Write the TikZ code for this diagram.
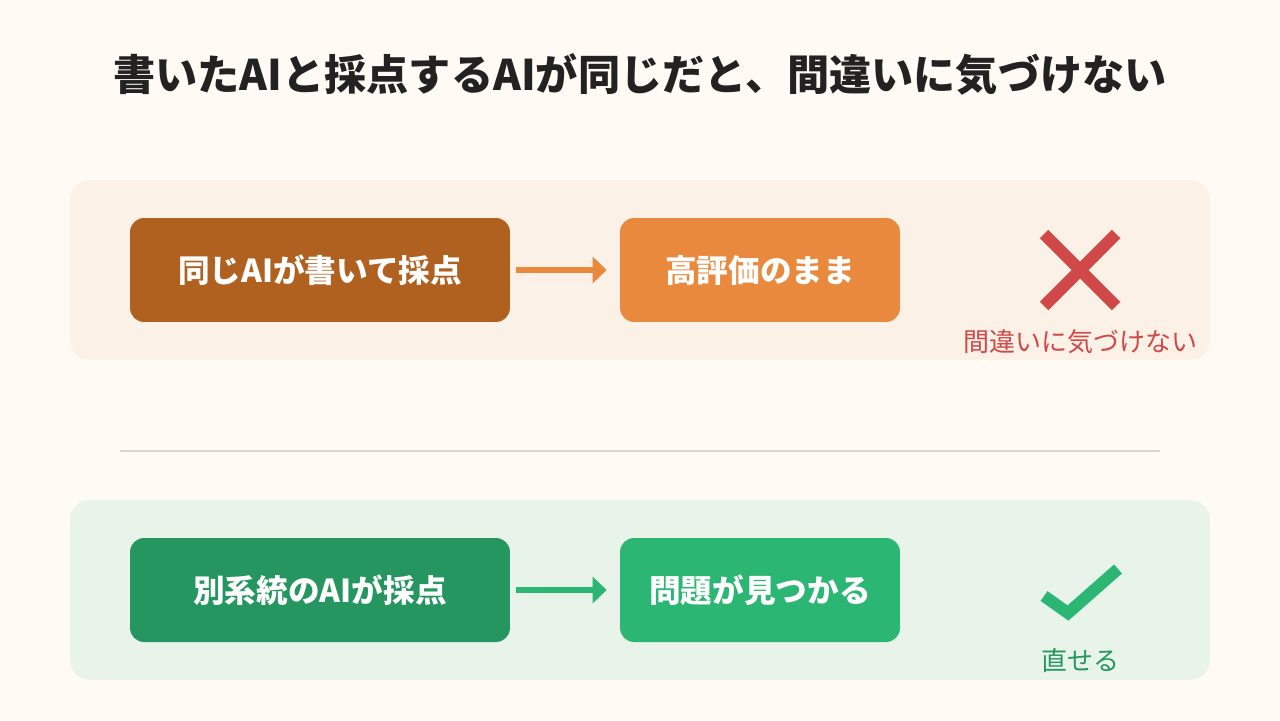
\documentclass[tikz,border=0pt]{standalone}
\usepackage{fontspec}
\setmainfont{Noto Sans CJK JP}
\usetikzlibrary{arrows.meta, positioning, calc}
\definecolor{pagebg}{HTML}{FFFAF4}
\definecolor{badpanel}{HTML}{FBF1E7}
\definecolor{goodpanel}{HTML}{E8F3EA}
\definecolor{brownbox}{HTML}{B0611F}
\definecolor{orangebox}{HTML}{E8893D}
\definecolor{crossred}{HTML}{D04848}
\definecolor{deepgreen}{HTML}{25965F}
\definecolor{lightgreen}{HTML}{2BB673}
\definecolor{rulegray}{HTML}{DDD6CE}
\definecolor{titleink}{HTML}{222222}

\begin{document}
\begin{tikzpicture}[
  x=0.02cm, y=-0.02cm,
  panel/.style={rectangle, draw=none, minimum width=22.8cm, minimum height=3.6cm, rounded corners=0.4cm, inner sep=0pt},
  srcbox/.style={rectangle, draw=none, minimum width=7.6cm, minimum height=2.08cm, rounded corners=0.28cm, text=white, font=\fontsize{18}{20}\selectfont\bfseries},
  resbox/.style={srcbox, minimum width=5.6cm},
  arr/.style={-{Triangle[length=0.28cm, width=0.52cm]}, line width=0.12cm, shorten <=0.12cm, shorten >=0.26cm},
  signline/.style={line width=0.24cm},
  note/.style={font=\fontsize{14.8}{16}\selectfont}
]
\useasboundingbox[fill=pagebg] (0,0) rectangle (1280,720);

% Title
\node[text=titleink, font=\fontsize{24}{27}\selectfont\bfseries] (title) at (640,74) {書いたAIと採点するAIが同じだと、間違いに気づけない};

% Same AI
\node[panel, fill=badpanel] (badrow) at (640,270) {};
\node[srcbox, fill=brownbox] (same) at (320,270) {同じAIが書いて採点};
\node[resbox, fill=orangebox] (high) at (760,270) {高評価のまま};
\draw[arr, orangebox] (same.east) -- (high.west);

\coordinate (cross) at (1080,270);
\draw[signline, crossred] ($(cross)+(-36,-36)$) -- ($(cross)+(36,36)$);
\draw[signline, crossred] ($(cross)+(36,-36)$) -- ($(cross)+(-36,36)$);
\node[note, text=crossred] (missed) at (1080,342) {間違いに気づけない};

% Divider
\coordinate (ruleL) at (120,451);
\coordinate (ruleR) at (1160,451);
\draw[rulegray, line width=0.04cm] (ruleL) -- (ruleR);

% Other AI
\node[panel, fill=goodpanel] (goodrow) at (640,590) {};
\node[srcbox, fill=deepgreen] (other) at (320,590) {別系統のAIが採点};
\node[resbox, fill=lightgreen] (found) at (760,590) {問題が見つかる};
\draw[arr, lightgreen] (other.east) -- (found.west);

\coordinate (tick) at (1068,613);
\draw[signline, lightgreen] ($(tick)+(-24,-17)$) -- (tick) -- ($(tick)+(50,-44)$);
\node[note, text=deepgreen] (fixed) at (1080,661) {直せる};

\end{tikzpicture}
\end{document}
